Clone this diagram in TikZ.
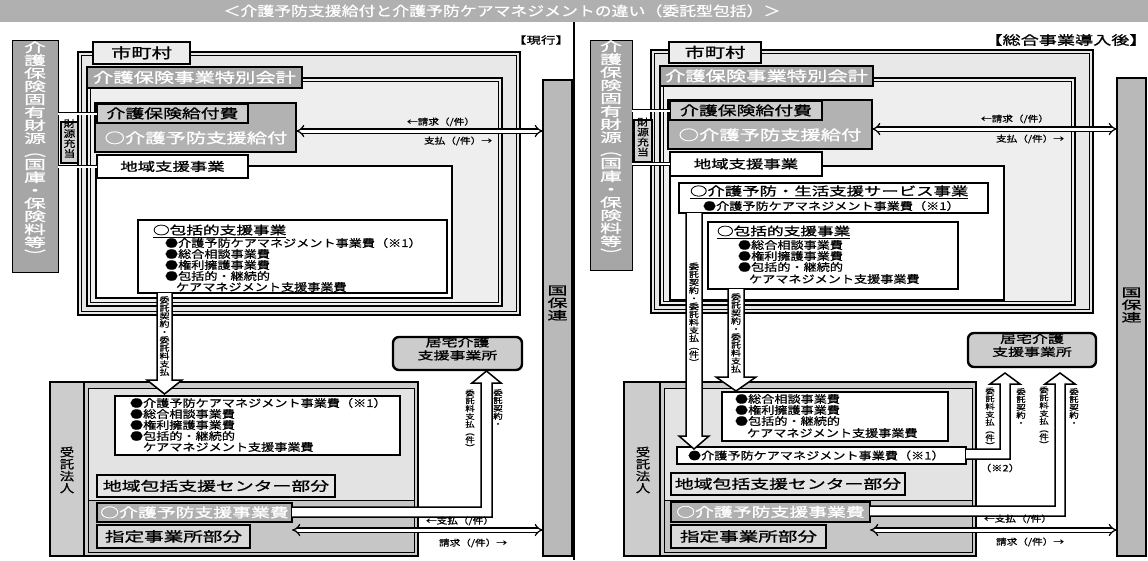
\documentclass[tikz,border=0pt]{standalone}
\usepackage{fontspec}
\newfontfamily\jp[FakeStretch=1.25,FakeBold=0.8]{Noto Sans CJK JP}
\newfontfamily\jpm[FakeStretch=1.45,FakeBold=1.2]{Noto Sans CJK JP}
\newfontfamily\jpw[FakeStretch=1.75,FakeBold=1.2]{Noto Sans CJK JP}
\usetikzlibrary{fit,arrows.meta,calc}
\newcommand\jsz[2]{\fontsize{#1}{#2}\selectfont}
\tikzset{
  bx/.style={inner sep=0pt, outer sep=0pt, draw=black, line width=1.5pt},
  hv/.style={bx, line width=2.4pt},
  t/.style={inner sep=0pt, outer sep=0pt},
  lt/.style={t, anchor=west, font=\jp\jsz{10.5}{11}},
  vt/.style={t, align=center},
  jA/.style={t, font=\jpm\jsz{14}{14}, text height=12pt, text depth=1.7pt},
  jB/.style={t, font=\jpm\jsz{13}{13}, text height=11.2pt, text depth=1.6pt},
  jC/.style={t, font=\jpm\jsz{12}{12}, text height=10.3pt, text depth=1.4pt},
  jD/.style={t, font=\jpm\jsz{13.5}{14}, text height=11.6pt, text depth=1.6pt},
  big/.style={draw=black, line width=1.5pt, fill=white, line join=miter},
  dbl/.style={double=white, double distance=3pt, line width=1.2pt, {Implies}-{Implies}},
  link/.style={double=white, double distance=2pt, line width=0.9pt},
  small/.style={t, font=\jp\jsz{8.5}{9}},
}
\newcommand\dframe[6]{%
  \node[fit={(#2,#3)(#4,#5)}, inner sep=0pt, outer sep=0pt, draw, line width=2.2pt, fill=#6] (#1) {};
  \draw[line width=0.7pt] ($(#1.north west)+(3.5,3.5)$) rectangle ($(#1.south east)+(-3.5,-3.5)$);}
\newcommand\lbl[3]{\node[#2] (#1T) at (#1.center) {#3};}
\begin{document}
\begin{tikzpicture}[x=1pt,y=-1pt]
\useasboundingbox (0,0) rectangle (1148,560);
\fill[white] (0,0) rectangle (1148,560);
% banner
\node[fit={(0,0)(1148,22)}, inner sep=0pt, fill=gray!62] (banner) {};
\node[t, text=white, font=\jp\jsz{13.5}{14}, text height=11.6pt, text depth=1.6pt] (title) at (502,11) {＜介護予防支援給付と介護予防ケアマネジメントの違い（委託型包括）＞};
\coordinate (divT) at (574,22);
\coordinate (divB) at (574,560);
\draw[line width=2pt] (divT) -- (divB);

% helper y levels
\coordinate (yL1) at (0,131);
\coordinate (yL2) at (0,530);
\coordinate (yR1) at (0,129);
\coordinate (yR2) at (0,530);

%================ LEFT PANEL =================
\node[t, font=\jpm\jsz{10}{10}] (genko) at (541,40) {【現行】};
\dframe{muniL}{78}{52}{520}{315}{gray!18}
\dframe{tokuL}{87}{78}{502}{306}{gray!13}
\node[hv, fill=white, fit={(96,166)(452,298)}] (chiikiFL) {};
\node[hv, fill=gray!15, fit={(93,42)(190,64)}] (muniLabL) {};
\lbl{muniLabL}{jA}{市町村}
\node[bx, fill=gray!70, fit={(87,67)(302,88)}] (tokuLabL) {};
\lbl{tokuLabL}{jA, text=white}{介護保険事業特別会計}
\node[bx, line width=2pt, fill=gray!60, fit={(95,103)(296,152)}] (payL) {};
\node[bx, fill=gray!40, fit={(97,104)(248,123)}] (kyufuL) {};
\lbl{kyufuL}{jB}{介護保険給付費}
\node[jA, text=white] (yoshienL) at (196,138) {○介護予防支援給付};
\node[hv, fill=white, fit={(97,155)(248,178)}] (chiikiL) {};
\lbl{chiikiL}{jC}{地域支援事業}
\node[bx, fill=gray!35, fit={(61,122)(78,163)}, align=center, font=\jp\jsz{9.5}{10}] (juL) {財\\源\\充\\当};
\node[bx, line width=1pt, fill=gray!70, fit={(12,40)(58,272)}, text=white, align=center, font=\jpw\jsz{12.5}{13}] (srcL) {介\\護\\保\\険\\固\\有\\財\\源\\︵\\国\\庫\\・\\保\\険\\料\\等\\︶};
\draw[link] (srcL.east |- kyufuL.west) -- (kyufuL.west);
\draw[link] (srcL.east |- chiikiL.west) -- (chiikiL.west);
% 包括的支援事業
\node[hv, fill=white, fit={(138,220)(447,293)}] (hkL) {};
\node[t, anchor=west, font=\jpm\jsz{11.5}{12}] (hkTL) at (153,231) {\underline{○包括的支援事業}};
\node[lt] (hk1L) at (165,243) {●介護予防ケアマネジメント事業費（※1）};
\node[lt] (hk2L) at (165,254) {●総合相談事業費};
\node[lt] (hk3L) at (165,265) {●権利擁護事業費};
\node[lt] (hk4L) at (165,276) {●包括的・継続的};
\node[lt] (hk5L) at (176,287) {ケアマネジメント支援事業費};
% 国保連
\node[hv, fill=gray!55, fit={(543,80)(572,556)}] (kokuL) {};
\node[vt, font=\jpw\jsz{11.5}{12.5}] (kokuTL) at (557.5,303) {国\\保\\連};
% 居宅介護支援事業所
\node[hv, rounded corners=6pt, fill=gray!40, fit={(393,337)(522,370)}, align=center, font=\jpm\jsz{11}{13}] (kyotakuL) {居宅介護\\支援事業所};
% 受託法人
\node[hv, line width=2.6pt, fill=gray!40, fit={(50,382)(418,556)}] (jutakuL) {};
\draw[line width=2pt] ($(jutakuL.north west)+(34,0)$) -- ($(jutakuL.south west)+(34,0)$);
\node[vt, font=\jp\jsz{11.5}{12}] (jutakuTL) at (67,470) {受\\託\\法\\人};
\node[bx, line width=1pt, fill=gray!22, fit={(88,388)(414,500)}] (centerL) {};
\node[bx, line width=1pt, fill=gray!45, fit={(88,500)(414,552)}] (lowL) {};
\node[hv, fill=white, fit={(115,396)(400,455)}] (wbL) {};
\node[lt] (wb1L) at (130,403) {●介護予防ケアマネジメント事業費（※1）};
\node[lt] (wb2L) at (130,414) {●総合相談事業費};
\node[lt] (wb3L) at (130,425) {●権利擁護事業費};
\node[lt] (wb4L) at (130,436) {●包括的・継続的};
\node[lt] (wb5L) at (143,447) {ケアマネジメント支援事業費};
\node[bx, fill=gray!20, fit={(97,475)(335,497)}] (centerLabL) {};
\lbl{centerLabL}{jB}{地域包括支援センター部分}
\node[bx, fill=gray!62, fit={(97,503)(292,522)}] (yoboL) {};
\lbl{yoboL}{jB, text=white}{○介護予防支援事業費}
\node[hv, fill=gray!30, fit={(97,525)(250,548)}] (shiteiL) {};
\lbl{shiteiL}{jD}{指定事業所部分}
% arrows
\draw[dbl] (payL.east |- yL1) -- (kokuL.west |- yL1);
\node[small] (reqL) at (441,122) {←請求（/件）};
\node[small] (paidL) at (458,141) {支払（/件）→};
\draw[big] (157,293) -- (157,380) -- (147,380) -- (164.5,394) -- (182,380) -- (172,380) -- (172,293);
\node[vt, font=\jp\jsz{8}{8}] (arrTL) at (164.5,336) {委\\託\\契\\約\\・\\委\\託\\料\\支\\払};
\draw[big] (292,507) -- (481,507) -- (481,383) -- (472,383) -- (486.5,371) -- (501,383) -- (492,383) -- (492,517) -- (292,517);
\node[vt, font=\jp\jsz{7.5}{7.8}] (upAL) at (470,420) {委\\託\\料\\支\\払\\︵\\件\\︶};
\node[vt, font=\jp\jsz{7.5}{7.8}] (upBL) at (498,408) {委\\託\\契\\約\\・};
\draw[dbl] (yoboL.east |- yL2) -- (kokuL.west |- yL2);
\node[small] (paid2L) at (460,521) {←支払（/件）};
\node[small] (req2L) at (473,543) {請求（/件）→};

%================ RIGHT PANEL =================
\node[t, font=\jpm\jsz{12.5}{13}] (donyugo) at (1066,40) {【総合事業導入後】};
\dframe{muniR}{651}{50}{1093}{313}{gray!18}
\dframe{tokuR}{660}{78}{1075}{305}{gray!13}
\node[hv, fill=white, fit={(670,166)(1004,300)}] (chiikiFR) {};
\node[hv, fill=gray!15, fit={(669,42)(761,63)}] (muniLabR) {};
\lbl{muniLabR}{jA}{市町村}
\node[bx, fill=gray!70, fit={(660,66)(873,86)}] (tokuLabR) {};
\lbl{tokuLabR}{jA, text=white}{介護保険事業特別会計}
\node[bx, line width=2pt, fill=gray!60, fit={(668,100)(872,149)}] (payR) {};
\node[bx, fill=gray!40, fit={(670,101)(822,120)}] (kyufuR) {};
\lbl{kyufuR}{jB}{介護保険給付費}
\node[jA, text=white] (yoshienR) at (770,135) {○介護予防支援給付};
\node[hv, fill=white, fit={(670,152)(822,176)}] (chiikiR) {};
\lbl{chiikiR}{jC}{地域支援事業}
\node[bx, fill=gray!35, fit={(634,120)(652,162)}, align=center, font=\jp\jsz{9.5}{10}] (juR) {財\\源\\充\\当};
\node[bx, line width=1pt, fill=gray!70, fit={(590,40)(632,270)}, text=white, align=center, font=\jpw\jsz{12.5}{13}] (srcR) {介\\護\\保\\険\\固\\有\\財\\源\\︵\\国\\庫\\・\\保\\険\\料\\等\\︶};
\draw[link] (srcR.east |- kyufuR.west) -- (kyufuR.west);
\draw[link] (srcR.east |- chiikiR.west) -- (chiikiR.west);
% サービス事業
\node[hv, fill=white, fit={(679,183)(988,213)}] (svcR) {};
\node[t, anchor=west, font=\jpm\jsz{12}{12}] (svcTR) at (690,192) {\underline{○介護予防・生活支援サービス事業}};
\node[lt] (svc1R) at (703,206) {●介護予防ケアマネジメント事業費（※1）};
% 包括的支援事業
\node[hv, fill=white, fit={(708,222)(958,289)}] (hkR) {};
\node[t, anchor=west, font=\jpm\jsz{11.5}{12}] (hkTR) at (717,232) {\underline{○包括的支援事業}};
\node[lt] (hk2R) at (738,245) {●総合相談事業費};
\node[lt] (hk3R) at (738,256) {●権利擁護事業費};
\node[lt] (hk4R) at (738,267) {●包括的・継続的};
\node[lt] (hk5R) at (749,279) {ケアマネジメント支援事業費};
% 国保連
\node[hv, fill=gray!55, fit={(1117,78)(1146,556)}] (kokuR) {};
\node[vt, font=\jpw\jsz{11.5}{12.5}] (kokuTR) at (1131.5,305) {国\\保\\連};
% 居宅
\node[hv, rounded corners=6pt, fill=gray!40, fit={(968,333)(1096,367)}, align=center, font=\jpm\jsz{11}{13}] (kyotakuR) {居宅介護\\支援事業所};
% 受託法人
\node[hv, line width=2.6pt, fill=gray!40, fit={(624,382)(976,556)}] (jutakuR) {};
\draw[line width=2pt] ($(jutakuR.north west)+(36,0)$) -- ($(jutakuR.south west)+(36,0)$);
\node[vt, font=\jp\jsz{11.5}{12}] (jutakuTR) at (643,470) {受\\託\\法\\人};
\node[bx, line width=1pt, fill=gray!22, fit={(664,388)(972,500)}] (centerR) {};
\node[bx, line width=1pt, fill=gray!45, fit={(664,500)(972,552)}] (lowR) {};
\node[hv, fill=white, fit={(722,392)(948,441)}] (wbR) {};
\node[lt] (wb2R) at (735,399) {●総合相談事業費};
\node[lt] (wb3R) at (735,410) {●権利擁護事業費};
\node[lt] (wb4R) at (735,421) {●包括的・継続的};
\node[lt] (wb5R) at (747,433) {ケアマネジメント支援事業費};
\node[hv, fill=white, fit={(677,447)(966,464)}] (kmR) {};
\node[lt] (kmTR) at (688,455.5) {●介護予防ケアマネジメント事業費（※1）};
\node[bx, fill=gray!20, fit={(671,473)(905,495)}] (centerLabR) {};
\lbl{centerLabR}{jB}{地域包括支援センター部分}
\node[bx, fill=gray!62, fit={(671,502)(870,522)}] (yoboR) {};
\lbl{yoboR}{jB, text=white}{○介護予防支援事業費}
\node[hv, fill=gray!30, fit={(671,525)(826,548)}] (shiteiR) {};
\lbl{shiteiR}{jD}{指定事業所部分}
% arrows
\draw[dbl] (payR.east |- yR1) -- (kokuR.west |- yR1);
\node[small] (reqR) at (1015,119) {←請求（/件）};
\node[small] (paidR) at (1030,139) {支払（/件）→};
\draw[big] (686,213) -- (686,436) -- (679,436) -- (694,449) -- (709,436) -- (702,436) -- (702,213);
\node[vt, font=\jp\jsz{8}{8}] (arr1TR) at (694,314) {委\\託\\契\\約\\・\\委\\託\\料\\支\\払\\︵\\件\\︶};
\draw[big] (728,289) -- (728,377) -- (716,377) -- (736,391) -- (756,377) -- (744,377) -- (744,289);
\node[vt, font=\jp\jsz{8}{8}] (arr2TR) at (736,333) {委\\託\\契\\約\\・\\委\\託\\料\\支\\払};
\draw[big] (966,449) -- (1000,449) -- (1000,384) -- (990,384) -- (1005,373) -- (1020,384) -- (1010,384) -- (1010,459) -- (966,459);
\node[vt, font=\jp\jsz{7.5}{7.8}] (upA1R) at (990,418) {委\\託\\料\\支\\払\\︵\\件\\︶};
\node[vt, font=\jp\jsz{7.5}{7.8}] (upA2R) at (1021,407) {委\\託\\契\\約\\・};
\node[t, font=\jp\jsz{9}{9}] (note2R) at (1000,468) {（※2）};
\draw[big] (870,506) -- (1055,506) -- (1055,384) -- (1045,384) -- (1060,373) -- (1075,384) -- (1065,384) -- (1065,516) -- (870,516);
\node[vt, font=\jp\jsz{7.5}{7.8}] (upB1R) at (1044,417) {委\\託\\料\\支\\払\\︵\\件\\︶};
\node[vt, font=\jp\jsz{7.5}{7.8}] (upB2R) at (1074,407) {委\\託\\契\\約\\・};
\draw[dbl] (yoboR.east |- yR2) -- (kokuR.west |- yR2);
\node[small] (paid2R) at (1018,519) {←支払（/件）};
\node[small] (req2R) at (1030,542) {請求（/件）→};
\end{tikzpicture}
\end{document}
